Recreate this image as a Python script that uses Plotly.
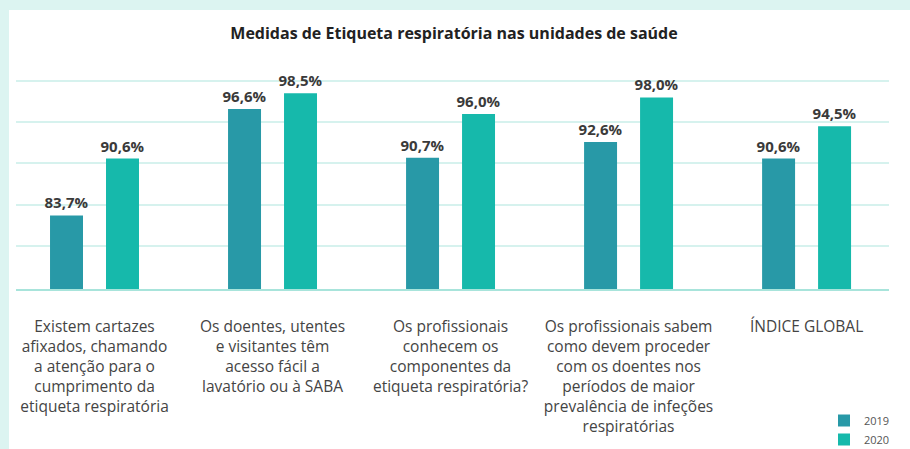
import plotly.graph_objects as go

categories = [
    "Existem cartazes<br>afixados, chamando<br>a atenção para o<br>cumprimento da<br>etiqueta respiratória",
    "Os doentes, utentes<br>e visitantes têm<br>acesso fácil a<br>lavatório ou à SABA",
    "Os profissionais<br>conhecem os<br>componentes da<br>etiqueta respiratória?",
    "Os profissionais sabem<br>como devem proceder<br>com os doentes nos<br>períodos de maior<br>prevalência de infeções<br>respiratórias",
    "ÍNDICE GLOBAL",
]
values_2019 = [83.7, 96.6, 90.7, 92.6, 90.6]
values_2020 = [90.6, 98.5, 96.0, 98.0, 94.5]
series_names = ["2019", "2020"]
title_text = "Medidas de Etiqueta respiratória nas unidades de saúde"

c2019 = "#2899a7"
c2020 = "#16b9ab"
font_family = "Open Sans"

fig = go.Figure()
for name, vals, col in [(series_names[0], values_2019, c2019), (series_names[1], values_2020, c2020)]:
    fig.add_trace(go.Bar(
        x=categories, y=vals, name=name,
        marker=dict(color=col, line=dict(width=0)),
        texttemplate="%{y:.1f}%", textposition="outside", constraintext="none",
        textfont=dict(family=font_family, size=15, color="#3a3a3a", weight="bold"),
        cliponaxis=False, hoverinfo="skip",
    ))

# plot area: x 16..889 (873 px), y 66..289 (223 px)
fig.update_layout(
    width=910, height=449,
    margin=dict(l=16, r=21, t=66, b=160, autoexpand=False),
    paper_bgcolor="#dcf4f1",
    plot_bgcolor="white",
    separators=",.",
    barmode="group",
    bargap=0.371,
    bargroupgap=0.411,
    title=dict(text=title_text, x=(454 - 16) / 873, xref="paper", xanchor="center",
               y=1 - 33 / 449, yanchor="middle",
               font=dict(family=font_family, size=16, color="#222222", weight="bold")),
    font=dict(family=font_family, color="#444444"),
    legend=dict(x=(824 - 16) / 873, xanchor="left", y=(289 - 406) / 223, yanchor="top",
                orientation="v", bgcolor="rgba(0,0,0,0)",
                font=dict(family=font_family, size=11, color="#555555"),
                itemclick=False, itemdoubleclick=False),
    showlegend=True,
    shapes=[dict(type="rect", xref="paper", yref="paper",
                 x0=(9 - 16) / 873, x1=1.05, y0=-1.0, y1=(289 - 10) / 223,
                 fillcolor="white", line=dict(width=0), layer="below")],
)
fig.update_xaxes(
    range=[-0.441, 4.463],
    showline=True, linecolor="#a8e4db", linewidth=2,
    showgrid=False, ticks="outside", ticklen=0, ticklabelstandoff=22,
    tickfont=dict(family=font_family, size=15.5, color="#444444"),
    fixedrange=True,
)
fig.update_yaxes(
    range=[74.8, 101.8],
    tickvals=[80, 85, 90, 95, 100],
    showticklabels=False, showgrid=True, gridcolor="#d6f2ee", gridwidth=2,
    zeroline=False, showline=False, fixedrange=True,
)

fig.write_html(
    "out.html",
    config={"displayModeBar": False},
    post_script="document.body.style.margin='0';document.body.style.background='#dcf4f1';",
)
